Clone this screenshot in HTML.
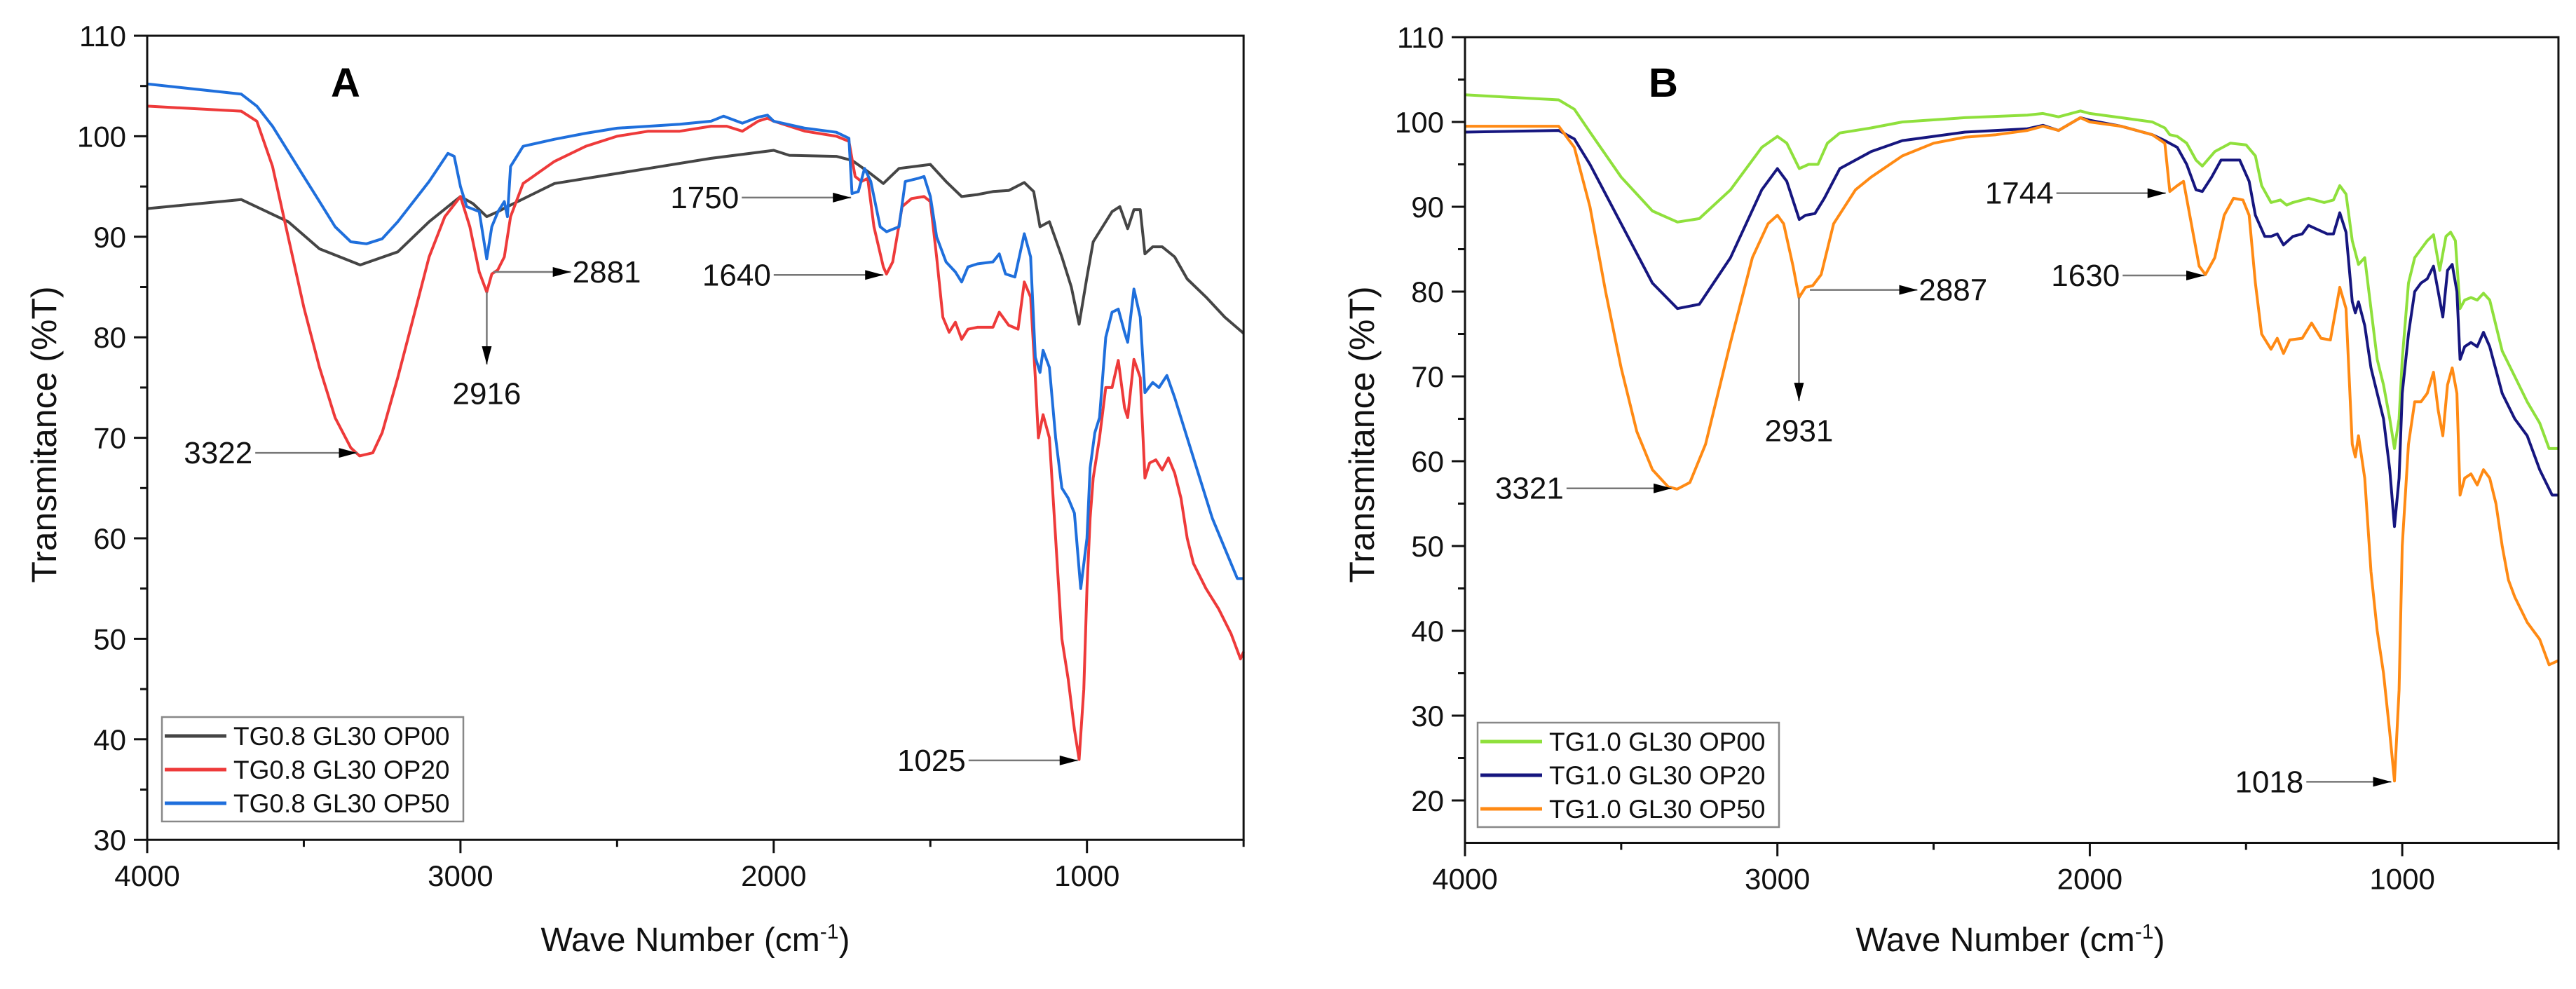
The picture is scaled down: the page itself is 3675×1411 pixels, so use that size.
<!DOCTYPE html>
<html><head><meta charset="utf-8"><style>
html,body{margin:0;padding:0;background:#fff}
svg{display:block;font-family:"Liberation Sans",Arial,sans-serif}
</style></head><body>
<svg id="fig" width="3675" height="1411" viewBox="0 0 3675 1411"></svg>
<script>
// ---------- Panel A data ----------
const aWaveBlack=[4000,3700,3550,3450,3320,3200,3100,3000,2960,2916,2880,2850,2700,2400,2200,2000,1950,1800,1750,1700,1650,1600,1500,1450,1400,1350,1300,1250,1200,1170,1150,1120,1080,1050,1025,1000,980,950,920,895,870,850,830,815,790,760,720,680,620,560,500];
const aValBlack=[92.8,93.7,91.5,88.8,87.2,88.5,91.5,94,93.3,92,92.5,93,95.3,96.8,97.8,98.6,98.1,98,97.6,96.5,95.3,96.8,97.2,95.5,94,94.2,94.5,94.6,95.4,94.5,91,91.5,88,85,81.3,86,89.5,91,92.5,93,90.8,92.7,92.7,88.3,89,89,88,85.8,84,82,80.4];
const aWaveRed=[4000,3700,3650,3600,3550,3500,3450,3400,3350,3322,3280,3250,3200,3150,3100,3050,3000,2970,2940,2916,2900,2881,2860,2840,2800,2700,2600,2500,2400,2300,2200,2150,2100,2050,2020,2000,1900,1800,1760,1740,1720,1700,1680,1650,1640,1620,1590,1560,1520,1500,1480,1460,1440,1420,1400,1380,1350,1300,1280,1250,1220,1200,1180,1165,1155,1140,1120,1100,1080,1060,1040,1025,1010,1000,990,980,960,940,920,900,880,870,850,830,815,800,780,760,740,720,700,680,660,620,580,540,510,500];
const aValRed=[103,102.5,101.5,97,90,83,77,72,69,68.2,68.5,70.5,76,82,88,92,94,91,86.5,84.5,86.3,86.7,88,92,95.3,97.5,99,100,100.5,100.5,101,101,100.5,101.5,101.8,101.5,100.5,100,99.5,96,95.5,95.8,91,87,86.3,87.5,93,93.8,94,93.5,88,82,80.5,81.5,79.8,80.8,81,81,82.5,81.2,80.8,85.5,84,76,70,72.3,70,60,50,46,41,38,45,55,62,66,70,75,75,77.7,73,72,77.8,76,66,67.5,67.8,66.8,68,66.5,64,60,57.5,55,53,50.5,48,48.7];
const aWaveBlue=[4000,3700,3650,3600,3550,3500,3450,3400,3350,3300,3250,3200,3100,3040,3020,3000,2980,2940,2916,2900,2880,2860,2850,2840,2800,2700,2600,2500,2400,2300,2200,2160,2100,2050,2020,2000,1900,1800,1760,1750,1730,1710,1690,1660,1640,1600,1580,1540,1520,1500,1480,1450,1420,1400,1380,1350,1300,1280,1260,1230,1200,1180,1165,1150,1140,1120,1100,1080,1060,1040,1020,1000,990,975,960,940,920,900,880,870,850,830,815,790,770,745,720,680,640,600,560,520,500];
const aValBlue=[105.2,104.2,103,101,98.5,96,93.5,91,89.5,89.3,89.8,91.5,95.5,98.3,98,95,93,92.5,87.8,91,92.5,93.5,92,97,99,99.7,100.3,100.8,101,101.2,101.5,102,101.3,101.9,102.1,101.5,100.8,100.4,99.8,94.3,94.5,96.8,95.5,91,90.5,91,95.5,95.8,96,94,90,87.5,86.5,85.5,87,87.3,87.5,88.3,86.3,86,90.3,88,78,76.5,78.7,77,70,65,64,62.5,55,60,67,70.5,72,80,82.5,82.8,80.5,79.5,84.8,82,74.5,75.5,75,76.2,74,70,66,62,59,56,56];
// ---------- Panel B data ----------
const bWaveGreen=[4000,3700,3650,3600,3500,3400,3320,3250,3150,3050,3000,2970,2930,2900,2870,2840,2800,2700,2600,2400,2200,2150,2100,2030,2000,1900,1800,1760,1744,1720,1690,1660,1640,1600,1550,1500,1470,1450,1420,1390,1370,1350,1300,1250,1220,1200,1180,1160,1140,1120,1100,1080,1060,1040,1025,1010,1000,980,960,940,920,900,880,860,845,830,815,800,780,760,740,720,680,640,600,560,530,500];
const bValGreen=[103.2,102.6,101.5,98.8,93.5,89.5,88.2,88.6,92,97,98.3,97.5,94.5,95,95,97.5,98.7,99.3,100,100.5,100.8,101,100.6,101.3,101,100.5,100,99.3,98.5,98.3,97.5,95.5,94.8,96.5,97.5,97.3,96,92.5,90.5,90.8,90.2,90.5,91,90.5,90.8,92.5,91.5,86,83.2,84,78,72,69,65,61.5,65,72,81,84,85,86,86.7,82.5,86.5,87,86,78,79,79.3,79,79.8,79,73,70,67,64.5,61.5,61.5];
const bWaveNavy=[4000,3700,3650,3600,3500,3400,3320,3250,3150,3050,3000,2970,2930,2910,2880,2850,2800,2700,2600,2400,2200,2150,2100,2030,2000,1900,1800,1760,1720,1690,1660,1640,1610,1580,1520,1490,1470,1440,1420,1400,1380,1350,1320,1300,1270,1240,1220,1200,1180,1160,1150,1140,1120,1100,1080,1060,1040,1025,1010,1000,980,960,940,920,900,885,870,855,840,825,815,800,780,760,740,720,680,640,600,560,520,500];
const bValNavy=[98.8,99,98,95,88,81,78,78.5,84,92,94.5,93,88.5,89,89.2,91,94.5,96.5,97.8,98.8,99.2,99.6,99,100.5,100.2,99.5,98.5,97.8,97,95,92,91.8,93.5,95.5,95.5,93,89,86.5,86.5,86.8,85.5,86.5,86.8,87.8,87.3,86.8,86.8,89.3,87,78.8,77.5,78.8,76,71,68,65,59,52.3,58,68,75,80,81,81.5,83,80,77,82.5,83.2,80,72,73.5,74,73.5,75.2,73.5,68,65,63,59,56,56];
const bWaveOrange=[4000,3700,3650,3600,3550,3500,3450,3400,3350,3321,3280,3230,3150,3080,3030,3000,2980,2950,2931,2910,2887,2860,2820,2750,2700,2600,2500,2400,2300,2200,2150,2100,2030,2000,1900,1800,1760,1744,1720,1700,1680,1650,1630,1600,1570,1540,1510,1490,1470,1450,1420,1400,1380,1360,1320,1290,1260,1230,1200,1180,1160,1150,1140,1120,1100,1080,1060,1040,1025,1010,1000,980,960,940,920,900,885,870,855,840,825,815,800,780,760,740,720,700,680,660,640,600,560,530,500];
const bValOrange=[99.5,99.5,97,90,80,71,63.5,59,57,56.7,57.5,62,74,84,88,89,88,83,79.3,80.5,80.7,82,88,92,93.5,96,97.5,98.2,98.5,99,99.5,99,100.5,100,99.5,98.5,97.5,91.8,92.5,93,89,83,82,84,89,91,90.8,89,81,75,73.2,74.5,72.7,74.3,74.5,76.3,74.5,74.3,80.5,78,62,60.5,63,58,47,40,35,28,22.3,33,50,62,67,67,68,70.5,66,63,69,71,68,56,58,58.5,57.2,59,58,55,50,46,44,41,39,36,36.5];
// tick labels
const aYTicks=[30,40,50,60,70,80,90,100,110];
const bYTicks=[20,30,40,50,60,70,80,90,100,110];
const xTicks=[4000,3000,2000,1000];
// annotations: [label, fromWave, toWave, value, textAtHead]
const aArrows=[["3322",3655,3330,68.5,0],["2881",2895,2647,86.5,1],["1640",2000,1650,86.2,0],["1750",2102,1753,93.9,0],["1025",1378,1029,37.9,0]];
const bArrows=[["3321",3675,3338,56.8,0],["2887",2896,2552,80.2,1],["1744",2107,1757,91.6,0],["1630",1895,1633,81.9,0],["1018",1307,1035,22.2,0]];

const NS="http://www.w3.org/2000/svg";
const svg=document.getElementById('fig');
function mk(tag,attrs,parent,text){const e=document.createElementNS(NS,tag);for(const k in attrs)e.setAttribute(k,attrs[k]);if(text!==undefined)e.textContent=text;(parent||svg).appendChild(e);return e;}

const defs=mk('defs',{});
const mkr2=mk('marker',{id:'ahb',markerWidth:'26',markerHeight:'14',refX:'26',refY:'7',orient:'auto',markerUnits:'userSpaceOnUse'},defs);
mk('path',{d:'M0,0 L26,7 L0,14 Z',fill:'#000'},mkr2);

function panel(cfg){
  const g=mk('g',{});
  
  
  const X=w=>cfg.x0+(4000-w)/1000*cfg.pxPer1000;
  const Y=v=>cfg.yTop+(cfg.vTop-v)*cfg.pxPerUnit;
  const x1=X(cfg.wMin), yb=Y(cfg.vMin);
  cfg.series.forEach(s=>{
    const d=s.w.map((w,i)=>(i?'L':'M')+X(w).toFixed(1)+','+Y(s.v[i]).toFixed(1)).join(' ');
    const p=mk('path',{d:d,fill:'none',stroke:s.color,'stroke-width':'4','stroke-linejoin':'round'},g);
    
    
  });
  const fr=mk('rect',{x:cfg.x0,y:cfg.yTop,width:x1-cfg.x0,height:yb-cfg.yTop,fill:'none',stroke:'#111','stroke-width':'3'},g);
  
  
  cfg.yTicks.forEach((t,i)=>{
    mk('line',{x1:cfg.x0-19,x2:cfg.x0,y1:Y(t),y2:Y(t),stroke:'#111','stroke-width':'3'},g);
    if(i<cfg.yTicks.length-1) mk('line',{x1:cfg.x0-10,x2:cfg.x0,y1:Y(t+5),y2:Y(t+5),stroke:'#111','stroke-width':'3'},g);
    const tl=mk('text',{x:cfg.x0-30,y:Y(t)+15,'text-anchor':'end','font-size':'42',fill:'#111'},g,String(t));
    
    
  });
  xTicks.forEach(t=>{
    mk('line',{x1:X(t),x2:X(t),y1:yb,y2:yb+19,stroke:'#111','stroke-width':'3'},g);
    mk('line',{x1:X(t-500),x2:X(t-500),y1:yb,y2:yb+10,stroke:'#111','stroke-width':'3'},g);
    const tl=mk('text',{x:X(t),y:yb+66,'text-anchor':'middle','font-size':'42',fill:'#111'},g,String(t));
    
    
  });
  const yt=mk('text',{x:cfg.yTitleX,y:620,'text-anchor':'middle','font-size':'50',fill:'#111',transform:'rotate(-90 '+cfg.yTitleX+' 620)'},g,'Transmitance (%T)');
  
  
  const xt=mk('text',{x:cfg.xTitleX,y:1357,'text-anchor':'middle','font-size':'48',fill:'#111'},g);
  
  
  xt.appendChild(document.createTextNode('Wave Number (cm'));
  mk('tspan',{dy:'-18','font-size':'30'},xt,'-1');
  mk('tspan',{dy:'18'},xt,')');
  const pl=mk('text',{x:cfg.letterX,y:138,'text-anchor':'middle','font-size':'58','font-weight':'bold',fill:'#000'},g,cfg.letter);
  
  
  cfg.arrows.forEach(a=>{
    const ln=mk('line',{x1:X(a[1]),x2:X(a[2]),y1:Y(a[3]),y2:Y(a[3]),stroke:'#777','stroke-width':'2.5','marker-end':'url(#ahb)'},g);
    
    
    let t;
    if(a[4]) t=mk('text',{x:X(a[2])+2,y:Y(a[3])+15,'text-anchor':'start','font-size':'44',fill:'#111'},g,a[0]);
    else t=mk('text',{x:X(a[1])-4,y:Y(a[3])+15,'text-anchor':'end','font-size':'44',fill:'#111'},g,a[0]);
    
    
  });
  const va=cfg.vArrow;
  const vl=mk('line',{x1:X(va[1]),x2:X(va[1]),y1:Y(va[2]),y2:Y(va[3]),stroke:'#777','stroke-width':'2.5','marker-end':'url(#ahb)'},g);
  
  
  const vt=mk('text',{x:X(va[1]),y:Y(va[4])+15,'text-anchor':'middle','font-size':'44',fill:'#111'},g,va[0]);
  
  
  const L=cfg.legend;
  const lg=mk('g',{},g);
  
  
  mk('rect',{x:L.x,y:L.y,width:L.w,height:L.h,fill:'#fff',stroke:'#888','stroke-width':'2.5'},lg);
  cfg.series.forEach((s,i)=>{
    const cy=L.y+L.first+i*L.step;
    const e=mk('g',{},lg);
    
    
    mk('line',{x1:L.x+4,x2:L.x+92,y1:cy,y2:cy,stroke:s.color,'stroke-width':'5'},e);
    mk('text',{x:L.x+102,y:cy+13,'font-size':'37',fill:'#111'},e,s.label);
  });
}

panel({name:'panel-a',letter:'A',letterX:493,x0:210,pxPer1000:446.9,wMin:500,yTop:51,vTop:110,vMin:30,pxPerUnit:14.34,
  yTicks:aYTicks,yTitleX:80,xTitleX:992,
  series:[{id:'series-op00',w:aWaveBlack,v:aValBlack,color:'#454545',label:'TG0.8 GL30 OP00'},
          {id:'series-op20',w:aWaveRed,v:aValRed,color:'#ee3a3a',label:'TG0.8 GL30 OP20'},
          {id:'series-op50',w:aWaveBlue,v:aValBlue,color:'#1f6fdc',label:'TG0.8 GL30 OP50'}],
  arrows:aArrows,vArrow:['2916',2916,84.5,77.3,74.4],
  legend:{x:231,y:1023,w:430,h:149,first:27,step:48}});

panel({name:'panel-b',letter:'B',letterX:2373,x0:2090,pxPer1000:445.7,wMin:500,yTop:53,vTop:110,vMin:15,pxPerUnit:12.1,
  yTicks:bYTicks,yTitleX:1960,xTitleX:2868,
  series:[{id:'series-op00',w:bWaveGreen,v:bValGreen,color:'#8fe03c',label:'TG1.0 GL30 OP00'},
          {id:'series-op20',w:bWaveNavy,v:bValNavy,color:'#16167f',label:'TG1.0 GL30 OP20'},
          {id:'series-op50',w:bWaveOrange,v:bValOrange,color:'#ff8a14',label:'TG1.0 GL30 OP50'}],
  arrows:bArrows,vArrow:['2931',2931,79.3,67.1,63.6],
  legend:{x:2108,y:1031,w:430,h:149,first:27,step:48}});
</script>
</body></html>
